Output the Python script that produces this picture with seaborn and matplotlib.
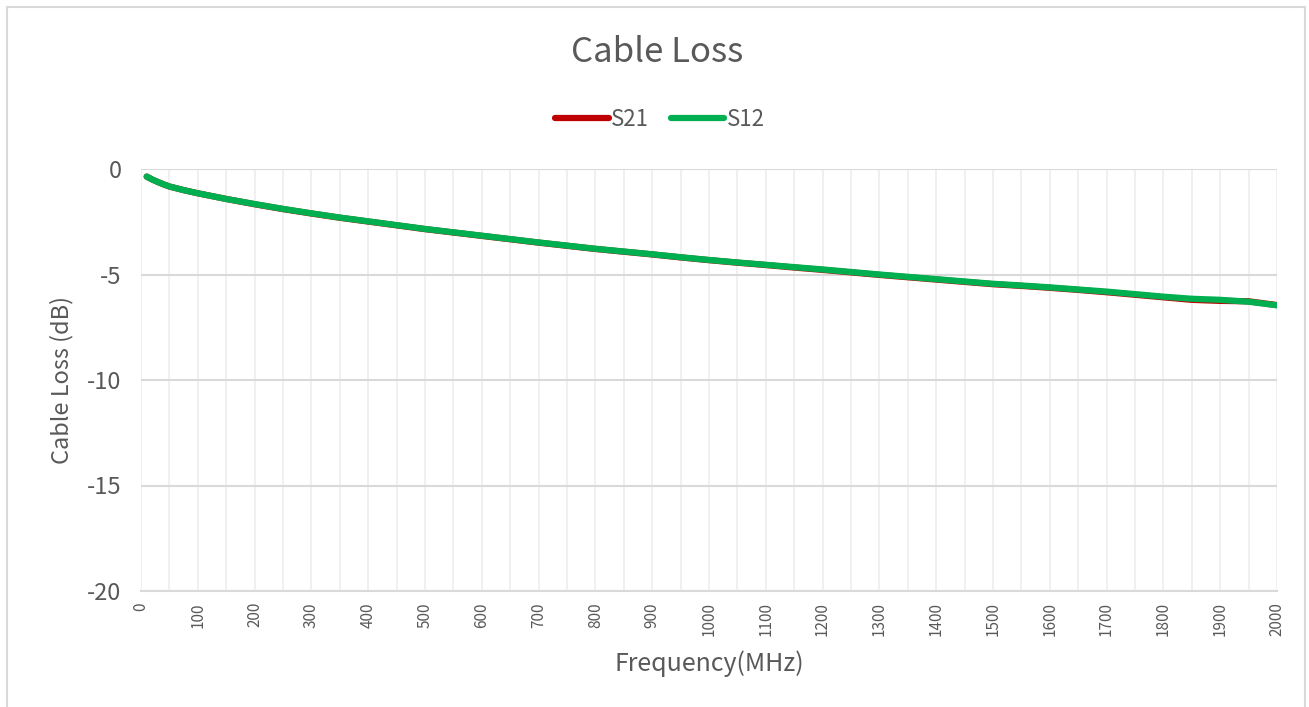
import matplotlib
matplotlib.use("Agg")
import matplotlib.pyplot as plt
import seaborn as sns
import numpy as np
import pandas as pd
from matplotlib.patches import Rectangle

# 数据
freq = [10, 20, 30, 40, 50, 75, 100, 150, 200, 250, 300, 350, 400, 450, 500, 550, 600,
        650, 700, 750, 800, 850, 900, 950, 1000, 1050, 1100, 1150, 1200, 1250, 1300,
        1350, 1400, 1450, 1500, 1550, 1600, 1650, 1700, 1750, 1800, 1850, 1900, 1950, 2000]
s12 = [-0.36, -0.50, -0.62, -0.73, -0.83, -1.00, -1.15, -1.42, -1.66, -1.89, -2.10,
       -2.30, -2.48, -2.66, -2.84, -3.00, -3.16, -3.32, -3.48, -3.63, -3.78, -3.91,
       -4.04, -4.18, -4.31, -4.43, -4.54, -4.65, -4.76, -4.88, -5.00, -5.11, -5.22,
       -5.33, -5.44, -5.52, -5.61, -5.71, -5.81, -5.93, -6.05, -6.15, -6.20, -6.29, -6.46]
s21 = [-0.36, -0.50, -0.62, -0.73, -0.83, -1.00, -1.15, -1.42, -1.67, -1.90, -2.11,
       -2.31, -2.49, -2.67, -2.85, -3.01, -3.17, -3.33, -3.49, -3.64, -3.79, -3.92,
       -4.05, -4.19, -4.32, -4.44, -4.55, -4.67, -4.78, -4.90, -5.02, -5.13, -5.24,
       -5.35, -5.46, -5.54, -5.63, -5.73, -5.84, -5.96, -6.08, -6.20, -6.25, -6.27, -6.45]
series = ["S21", "S12"]
colors = ["#C00000", "#00B050"]
x_ticks = list(range(0, 2001, 100))
y_ticks = [0, -5, -10, -15, -20]

data = pd.concat([
    pd.DataFrame({"Frequency": freq, "Loss": s21, "Series": "S21"}),
    pd.DataFrame({"Frequency": freq, "Loss": s12, "Series": "S12"}),
])

sns.set_style("white")
plt.rcParams['font.family'] = ['Noto Sans CJK SC', 'DejaVu Sans']
plt.rcParams['font.weight'] = 'light'
txt = "#595959"

fig = plt.figure(figsize=(13.09, 7.07), dpi=100)
ax = fig.add_axes([141 / 1309, 1 - 591 / 707, (1277 - 141) / 1309, (591 - 169) / 707])

sns.lineplot(data=data, x="Frequency", y="Loss", hue="Series", hue_order=series,
             palette=colors, linewidth=4.5, ax=ax, legend=False,
             solid_capstyle="round", solid_joinstyle="round", zorder=3)

ax.set_xlim(0, 2000)
ax.set_ylim(-20, 0)
ax.set_xticks(x_ticks)
ax.set_xticks(range(0, 2001, 50), minor=True)
ax.set_yticks(y_ticks)
ax.set_xticklabels([str(t) for t in x_ticks], rotation=90, fontsize=11, color=txt)
ax.set_yticklabels([str(t) for t in y_ticks], fontsize=17, color=txt)
ax.tick_params(axis="y", length=0, pad=14)
ax.tick_params(axis="x", length=0, pad=8)
ax.tick_params(axis="x", which="minor", length=0)

ax.grid(axis="y", which="major", color="#d9d9d9", linewidth=1.5)
ax.grid(axis="x", which="both", color="#efefef", linewidth=1.3)
ax.set_axisbelow(True)
for s in ["left", "right", "top"]:
    ax.spines[s].set_visible(False)
ax.spines["bottom"].set_color("#d9d9d9")
ax.spines["bottom"].set_linewidth(1.5)

ax.set_xlabel("Frequency(MHz)", fontsize=18, color=txt, labelpad=10)
ax.set_ylabel("Cable Loss (dB)", fontsize=17, color=txt, labelpad=10)

fig.text(657 / 1309, 1 - 53 / 707, "Cable Loss", ha="center", va="center",
         fontsize=25, color=txt)

handles = [plt.Line2D([], [], color=c, linewidth=4.5, solid_capstyle="round") for c in colors]
fig.legend(handles, series, loc="center", bbox_to_anchor=(660 / 1309, 1 - 119 / 707),
           ncol=2, frameon=False, fontsize=16, handlelength=2.4, handletextpad=0.1,
           columnspacing=1.0, labelcolor=txt)

fig.patches.append(Rectangle((7 / 1309, -0.02), (1305 - 7) / 1309, 1.02 - 7 / 707,
                             transform=fig.transFigure, fill=False,
                             edgecolor="#d9d9d9", linewidth=1.5))

fig.savefig("out.png", dpi=100)
